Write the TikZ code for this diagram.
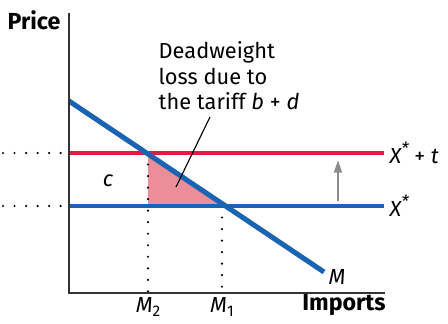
\documentclass[tikz,border=0pt]{standalone}
\usepackage{fontspec}
\setmainfont{Fira Sans}
\usetikzlibrary{arrows.meta, positioning}

\definecolor{tariffred}{RGB}{222,28,68}
\definecolor{importblue}{RGB}{26,100,180}
\definecolor{dwlpink}{RGB}{236,142,154}
\newcommand{\lowsub}[1]{\raisebox{-0.35ex}{\fontsize{11}{11}\selectfont #1}}
\newcommand{\upstar}{\raisebox{0.75ex}{\fontsize{12}{12}\selectfont *}}

\begin{document}
\begin{tikzpicture}[
  x=0.025cm, y=-0.025cm,
  every node/.style={font=\fontsize{15.5}{18}\selectfont, inner sep=1pt},
  axis/.style={line width=0.9pt, black!80},
  curve/.style={line width=#1, line cap=butt},
  guide/.style={line width=1.7pt, line cap=round, black,
                dash pattern=on 0pt off 8.2pt},
  lbl/.style={font=\fontsize{15.5}{18}\selectfont\itshape},
  axlbl/.style={font=\fontsize{16.5}{19}\selectfont\bfseries},
  shift arr/.style={-{Triangle[length=9pt, width=5.5pt]}, line width=1.6pt, gray!90},
]

\useasboundingbox (0,0) rectangle (448,323);

% ── Repères ──────────────────────────────────────────────────────────
\coordinate (origin) at (69,293);
\coordinate (ytop)   at (69,13);
\coordinate (xend)   at (385,293);
\coordinate (redL)   at (69,153);
\coordinate (redR)   at (384,153);
\coordinate (bluL)   at (69,206);
\coordinate (bluR)   at (384,206);
\coordinate (mtop)   at (69,101);
\coordinate (mend)   at (324,272);
\coordinate (dwlA)   at (148,154);
\coordinate (dwlB)   at (148,206);
\coordinate (dwlC)   at (225,206);
\coordinate (m2top)  at (148,153);
\coordinate (m2bot)  at (148,293);
\coordinate (m1top)  at (222,206);
\coordinate (m1bot)  at (222,293);

% ── Perte sèche (triangle rose) ──────────────────────────────────────
\fill[dwlpink] (dwlA) -- (dwlB) -- (dwlC) -- cycle;

% ── Pointillés ───────────────────────────────────────────────────────
\draw[guide] (3,153) -- (63,153);
\draw[guide] (3,206) -- (63,206);
\draw[guide] (m2top) -- (m2bot);
\draw[guide] (m1top) -- (m1bot);

% ── Prix mondial avec et sans tarif ──────────────────────────────────
\draw[curve=2.9pt, tariffred] (redL) -- (redR);
\draw[curve=3.4pt, importblue] (bluL) -- (bluR);

% ── Demande d'importations M ─────────────────────────────────────────
\draw[curve=3.6pt, importblue] (mtop) -- (mend);

% ── Axes ─────────────────────────────────────────────────────────────
\draw[axis] (ytop) -- (origin) -- (xend);

% ── Étiquettes ───────────────────────────────────────────────────────
\node[axlbl] (price)   at (34,20)  {Price};
\node[axlbl] (imports) at (344,305) {Imports};
\node[lbl]   (m2)      at (148,307) {M\lowsub{\upshape 2}};
\node[lbl]   (m1)      at (222,307) {M\lowsub{\upshape 1}};
\node[lbl]   (mlab)    at (337,277) {M};
\node[lbl]   (clab)    at (108,181) {c};
\node[lbl, anchor=west] (xt) at (388,153) {X\upstar\ \upshape+ \itshape t};
\node[lbl, anchor=west] (xs) at (388,206) {X\upstar};

\node[anchor=north west, align=left] (dwl) at (157,40)
  {Deadweight\\loss due to\\the tariff \textit{b} + \textit{d}};

% ── Flèche de renvoi et hausse du prix ───────────────────────────────
\coordinate (lead)  at (210,117);
\coordinate (inner) at (176,187);
\draw[line width=0.8pt] (lead) -- (inner);

\coordinate (shiftA) at (338,201);
\coordinate (shiftB) at (338,160);
\draw[shift arr] (shiftA) -- (shiftB);

\end{tikzpicture}
\end{document}
